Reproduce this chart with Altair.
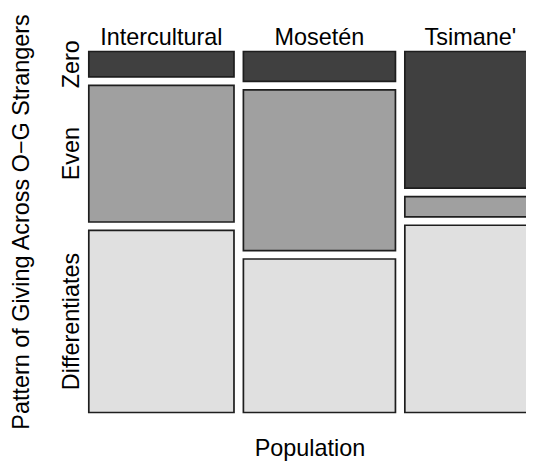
import altair as alt
import pandas as pd

# ---- data (shares read from the mosaic, in %) ----
populations = ["Intercultural", "Mosetén", "Tsimane'"]
patterns = ["Zero", "Even", "Differentiates"]
population_share = [33.9, 35.5, 30.6]
share_intercultural = [7.4, 39.7, 52.9]
share_moseten = [8.7, 46.7, 44.6]
share_tsimane = [39.7, 5.9, 54.4]
fills = ["#404040", "#a0a0a0", "#e0e0e0"]

shares = [share_intercultural, share_moseten, share_tsimane]

# ---- layout (svg pixel space) ----
W, H = 518, 453
X0, XR = 80.8, 527.9
Y0, YB = 43.5, 404.5
GX, GY = 9.4, 8.4
FONT = "Liberation Sans"
FS = 23.4

content_w = XR - X0 - GX * (len(populations) - 1)
content_h = YB - Y0 - GY * (len(patterns) - 1)
grand = sum(population_share)

rows = []
col_labels = []
x = X0
for pop, ps, c in zip(populations, population_share, shares):
    tot = sum(c)
    w = content_w * ps / grand
    y = Y0
    for pat, n in zip(patterns, c):
        h = content_h * n / tot
        rows.append(dict(pop=pop, pattern=pat, share=n, x=x, x2=x + w, y=y, y2=y + h))
        y += h + GY
    col_labels.append(dict(label=pop, x=x + w / 2, y=36.8))
    x += w + GX

df = pd.DataFrame(rows)
df_col = pd.DataFrame(col_labels)
first = df[df["pop"] == populations[0]]
df_row = pd.DataFrame(dict(label=first["pattern"], x=70.5, y=(first["y"] + first["y2"]) / 2))
df_xtitle = pd.DataFrame([dict(label="Population", x=302, y=447.8)])
df_ytitle = pd.DataFrame([dict(label="Pattern of Giving Across O\u2212G Strangers", x=21.4, y=214)])

xs = alt.Scale(domain=[0, W], range=[0, W], nice=False, zero=False)
ys = alt.Scale(domain=[0, H], range=[0, H], nice=False, zero=False)

rects = alt.Chart(df).mark_rect(stroke="#1e1e1e", strokeWidth=1.7, clip=True).encode(
    x=alt.X("x:Q", scale=xs, axis=None),
    x2="x2:Q",
    y=alt.Y("y:Q", scale=ys, axis=None),
    y2="y2:Q",
    fill=alt.Fill("pattern:N", scale=alt.Scale(domain=patterns, range=fills), legend=None),
)


def text_layer(data, angle=0):
    kw = dict(font=FONT, fontSize=FS, align="center", baseline="alphabetic", color="black")
    if angle:
        kw["angle"] = angle
    return alt.Chart(data).mark_text(**kw).encode(
        x=alt.X("x:Q", scale=xs), y=alt.Y("y:Q", scale=ys), text="label:N"
    )


chart = alt.layer(
    rects,
    text_layer(df_col),
    text_layer(df_row, 270),
    text_layer(df_xtitle),
    text_layer(df_ytitle, 270),
).properties(
    width=W, height=H, autosize=alt.AutoSizeParams(type="none"), padding=0, background="white"
).configure_view(stroke=None)

chart.save("out.html", embed_options={"renderer": "svg", "actions": False})
